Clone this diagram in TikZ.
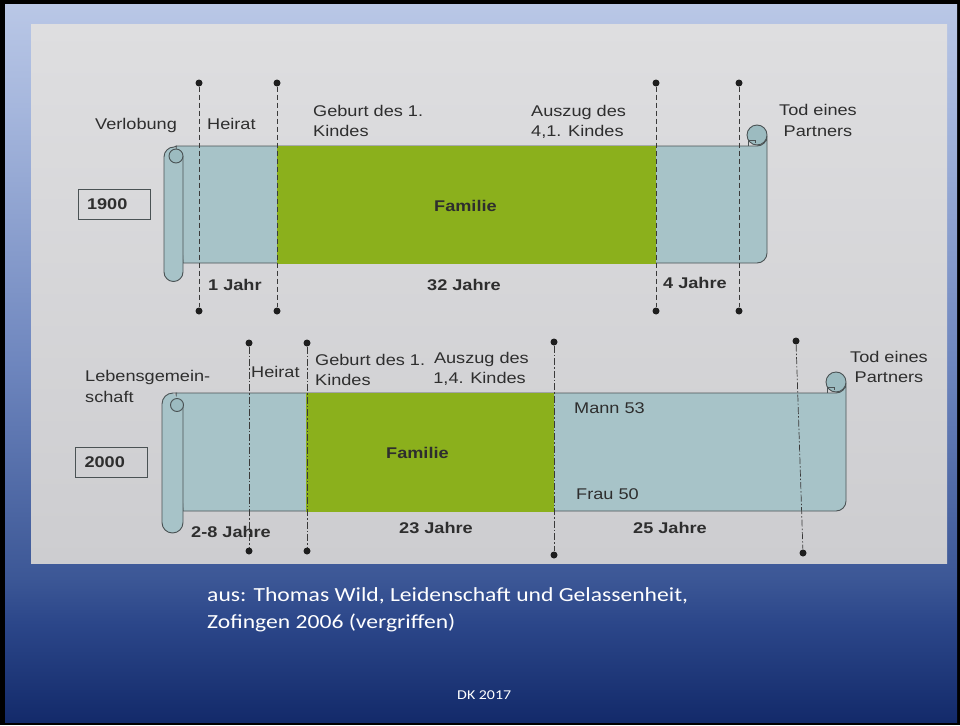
\documentclass[tikz,border=0pt]{standalone}
\usepackage{fontspec}
\setmainfont{Liberation Sans}[FakeStretch=1.17]
\newfontfamily\slidefont{Carlito}[FakeStretch=1.18]
\definecolor{bgA}{HTML}{132A6A}
\definecolor{bgB}{HTML}{2C478A}
\definecolor{bgC}{HTML}{3C5796}
\definecolor{bgD}{HTML}{6E86BE}
\definecolor{bgE}{HTML}{A6B7DD}
\definecolor{bgF}{HTML}{B9C7E6}
\definecolor{paperT}{HTML}{DEDEE0}
\definecolor{paperB}{HTML}{CDCDD0}
\definecolor{sheet}{HTML}{A7C3C8}
\definecolor{curl}{HTML}{9CBBC0}
\definecolor{famgreen}{HTML}{8BB01C}
\definecolor{edgec}{HTML}{4A5254}
\definecolor{txt}{HTML}{2E2E2E}
\definecolor{dotc}{HTML}{1E1E1E}
\definecolor{linec}{HTML}{3A3A3A}
\pgfdeclareverticalshading{slidebg}{100bp}{color(0bp)=(bgA); color(25bp)=(bgA); color(32bp)=(bgB); color(35bp)=(bgC); color(50bp)=(bgD); color(68bp)=(bgE); color(75bp)=(bgF); color(100bp)=(bgF)}
\begin{document}
\begin{tikzpicture}[x=1pt,y=-1pt,
  lbl/.style={font=\fontsize{15.5}{19}\selectfont, text=txt, inner sep=0pt, anchor=base west},
  blbl/.style={lbl, font=\fontsize{15.5}{19}\selectfont\bfseries},
  clbl/.style={lbl, anchor=base},
  rlbl/.style={lbl, anchor=base east},
  dot/.style={circle, fill=dotc, inner sep=0pt, minimum size=7pt},
  tickA/.style={draw=linec, line width=0.7pt, dash pattern=on 5pt off 3pt},
  tickB/.style={draw=linec, line width=0.7pt, dash pattern=on 7pt off 2pt on 1.5pt off 2pt},
  outl/.style={draw=edgec, line width=0.9pt},
  yearbox/.style={draw=edgec, line width=0.9pt, font=\fontsize{15.5}{19}\selectfont\bfseries, text=txt,
     text width=54pt, inner xsep=9pt, inner ysep=0pt, minimum height=30pt, align=left},
  slide/.style={font=\slidefont\fontsize{20}{27}\selectfont, text=white, inner sep=0pt, anchor=base west}]
\useasboundingbox (0,0) rectangle (960,725);
% slide background
\fill[black] (0,0) rectangle (960,725);
\shade[shading=slidebg] (5,5) rectangle (957,722);
% photo of the page
\shade[top color=paperT, bottom color=paperB] (31,25) rectangle (947,563);

% ===== row 1900 =====
\draw[outl, fill=sheet] (176,146) -- (757,146) arc[start angle=90, end angle=0, radius=10]
   -- (767,253) arc[start angle=0, end angle=90, radius=10] -- (183,263) -- cycle;
\fill[famgreen] (277,145.5) rectangle (656,263.5);
% left roll
\fill[sheet] (183,156) -- (183,272) arc[start angle=0, end angle=180, radius=9.5]
   -- (164,157) arc[start angle=180, end angle=270, radius=10] -- cycle;
\draw[outl] (183,156) -- (183,272) arc[start angle=0, end angle=180, radius=9.5]
   -- (164,157) arc[start angle=180, end angle=270, radius=10] -- (177,146);
\draw[outl, fill=curl] (176,156) circle[radius=7];
% right roll
\draw[outl, fill=curl] (757,135) circle[radius=10];
\draw[outl] (748,146) -- (748,140) -- (755,140) -- (755,143);

% dashed markers row 1
\node[dot] (v1t) at (199,83) {};
\node[dot] (v1b) at (199,311) {};
\node[dot] (h1t) at (277,83) {};
\node[dot] (h1b) at (277,311) {};
\node[dot] (k1t) at (656,83) {};
\node[dot] (k1b) at (656,311) {};
\node[dot] (t1t) at (739,83) {};
\node[dot] (t1b) at (739,311) {};
\draw[tickA] (v1t) -- (v1b);
\draw[tickA] (h1t) -- (h1b);
\draw[tickA] (k1t) -- (k1b);
\draw[tickA] (t1t) -- (t1b);

% labels row 1
\node[lbl] (verl) at (95,129) {Verlobung};
\node[lbl] (heir1) at (207,129) {Heirat};
\node[lbl] (geb1a) at (313,116) {Geburt des 1.};
\node[lbl] (geb1b) at (313,136) {Kindes};
\node[lbl] (ausz1a) at (531,116) {Auszug des};
\node[lbl] (ausz1b) at (531,136) {4,1. Kindes};
\node[clbl] (tod1a) at (818,115) {Tod eines};
\node[clbl] (tod1b) at (818,136) {Partners};
\node[yearbox] (y1900) at (114,204) {1900};
\node[blbl] (fam1) at (434,211) {Familie};
\node[blbl] (j1) at (208,290) {1 Jahr};
\node[blbl] (j32) at (427,290) {32 Jahre};
\node[blbl] (j4) at (663,288) {4 Jahre};

% ===== row 2000 =====
\draw[outl, fill=sheet] (176,393) -- (836,393) arc[start angle=90, end angle=0, radius=10]
   -- (846,501) arc[start angle=0, end angle=90, radius=10] -- (183,511) -- cycle;
\fill[famgreen] (306,392.5) rectangle (554,511.5);
% left roll
\fill[sheet] (183,403) -- (183,522.5) arc[start angle=0, end angle=180, radius=10.5]
   -- (162,404) arc[start angle=180, end angle=270, radius=11] -- cycle;
\draw[outl] (183,403) -- (183,522.5) arc[start angle=0, end angle=180, radius=10.5]
   -- (162,404) arc[start angle=180, end angle=270, radius=11] -- (177,393);
\draw[outl, fill=curl] (177,405) circle[radius=6.5];
% right roll
\draw[outl, fill=curl] (836,382) circle[radius=10];
\draw[outl] (827,393) -- (827,387) -- (834,387) -- (834,390);

% dashed markers row 2
\node[dot] (h2t) at (249,343) {};
\node[dot] (h2b) at (249,551) {};
\node[dot] (g2t) at (307,343) {};
\node[dot] (g2b) at (307,551) {};
\node[dot] (k2t) at (554,342) {};
\node[dot] (k2b) at (554,555) {};
\node[dot] (t2t) at (796,341) {};
\node[dot] (t2b) at (803,553) {};
\draw[tickB] (h2t) -- (h2b);
\draw[tickB] (g2t) -- (g2b);
\draw[tickB] (k2t) -- (k2b);
\draw[tickB] (t2t) -- (t2b);

% labels row 2
\node[lbl] (leb2a) at (85,381) {Lebensgemein-};
\node[lbl] (leb2b) at (85,402) {schaft};
\node[lbl] (heir2) at (251,377) {Heirat};
\node[lbl] (geb2a) at (315,365) {Geburt des 1.};
\node[lbl] (geb2b) at (315,385) {Kindes};
\node[rlbl] (ausz2a) at (529,363) {Auszug des};
\node[rlbl] (ausz2b) at (526,383) {1,4. Kindes};
\node[clbl] (tod2a) at (889,362) {Tod eines};
\node[clbl] (tod2b) at (889,382) {Partners};
\node[yearbox] (y2000) at (111.5,462.5) {2000};
\node[blbl] (fam2) at (386,458) {Familie};
\node[lbl] (mann) at (574,413) {Mann 53};
\node[lbl] (frau) at (576,499) {Frau 50};
\node[blbl] (j28) at (191,537) {2-8 Jahre};
\node[blbl] (j23) at (399,533) {23 Jahre};
\node[blbl] (j25) at (633,533) {25 Jahre};

% slide texts
\node[slide] (src1) at (207,601) {aus: Thomas Wild, Leidenschaft und Gelassenheit,};
\node[slide] (src2) at (207,628) {Zofingen 2006 (vergriffen)};
\node[slide, font=\slidefont\fontsize{13.5}{16}\selectfont] (dk) at (457,699) {DK 2017};
\end{tikzpicture}
\end{document}
